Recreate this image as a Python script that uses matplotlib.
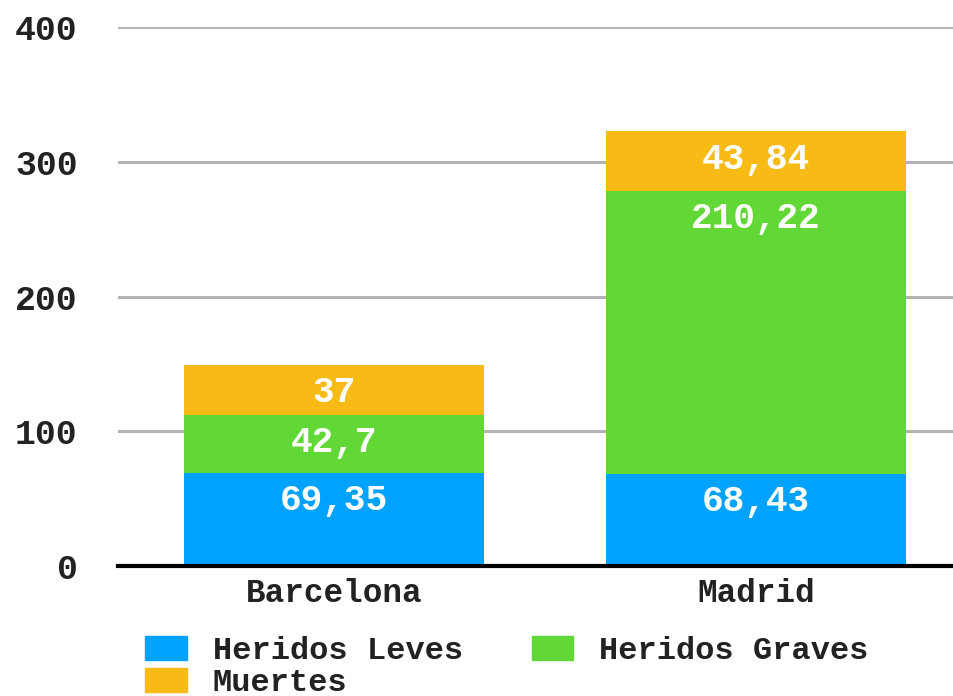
import matplotlib.pyplot as plt
from matplotlib.patches import Patch

# data
cities = ['Barcelona', 'Madrid']
heridos_leves = [69.35, 68.43]
heridos_graves = [42.7, 210.22]
muertes = [37, 43.84]
labels_leves = ['69,35', '68,43']
labels_graves = ['42,7', '210,22']
labels_muertes = ['37', '43,84']

series_names = ['Heridos Leves', 'Heridos Graves', 'Muertes']
colors = ['#00A2FF', '#61D836', '#F8BA14']

plt.rcParams['font.family'] = ['Liberation Mono', 'DejaVu Sans Mono']
plt.rcParams['font.weight'] = 'bold'
txt_color = '#222222'

fig = plt.figure(figsize=(9.54, 6.96), dpi=100)
ax = fig.add_axes([118 / 954, 130 / 696, 836 / 954, 539 / 696])

x = list(range(len(cities)))
bottoms = [0] * len(cities)
for vals, labs, col in zip([heridos_leves, heridos_graves, muertes],
                           [labels_leves, labels_graves, labels_muertes], colors):
    ax.bar(x, vals, bottom=bottoms, width=0.711, color=col, zorder=3)
    for xi, v, b, lab in zip(x, vals, bottoms, labs):
        ax.annotate(lab, xy=(xi, b + v), xytext=(0, -20), textcoords='offset points',
                    ha='center', va='center', color='white', fontsize=26, zorder=4)
    bottoms = [b + v for b, v in zip(bottoms, vals)]

ax.set_ylim(0, 400)
ax.set_xlim(-0.512, 1.469)
ax.set_yticks([0, 100, 200, 300, 400])
ax.set_xticks(x)
ax.set_xticklabels(cities)
ax.yaxis.grid(True, color='#B4B4B4', linewidth=2.2, zorder=0)
ax.set_axisbelow(True)
for s in ['top', 'right', 'left']:
    ax.spines[s].set_visible(False)
ax.spines['bottom'].set_color('black')
ax.spines['bottom'].set_linewidth(3)
ax.spines['bottom'].set_zorder(5)
ax.tick_params(axis='both', length=0, labelcolor=txt_color)
ax.tick_params(axis='y', pad=29, labelsize=25)
ax.tick_params(axis='x', pad=9, labelsize=23.5)

# legend, row-major order
handles = [Patch(color=colors[0], label=series_names[0]),
           Patch(color=colors[2], label=series_names[2]),
           Patch(color=colors[1], label=series_names[1])]
fig.legend(handles=handles, ncol=2, loc='upper left', bbox_to_anchor=(145 / 954, 1 - 636 / 696),
           frameon=False, fontsize=23, handlelength=1.3, handleheight=0.8,
           handletextpad=0.82, columnspacing=2.15, labelspacing=0.05,
           borderpad=0, borderaxespad=0, labelcolor=txt_color)

fig.savefig('out.png', dpi=100)
